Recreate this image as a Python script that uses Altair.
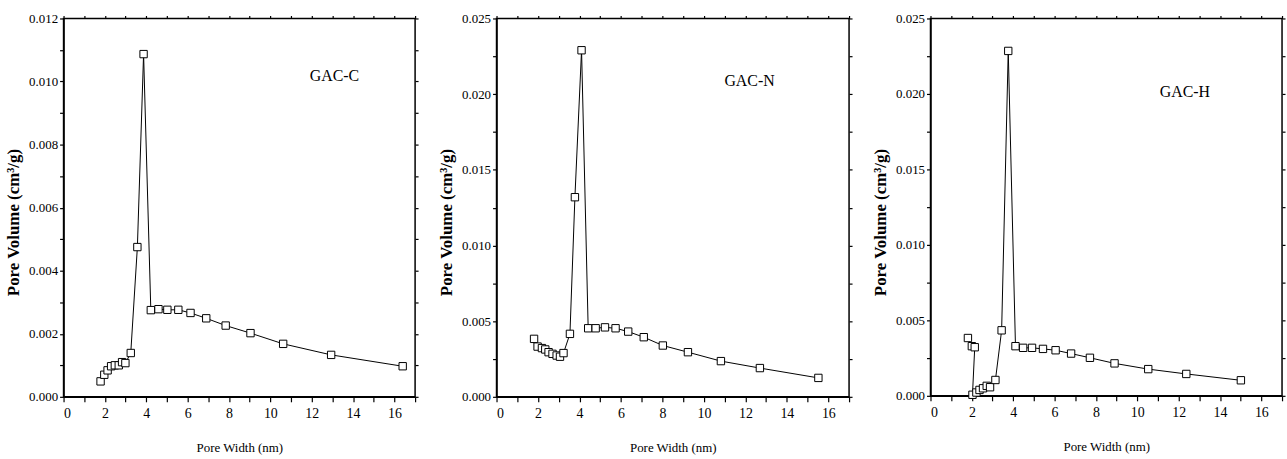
import altair as alt
import pandas as pd

# ---------------- data ----------------
c_x = [1.79, 1.97, 2.13, 2.30, 2.48, 2.67, 2.83, 2.99, 3.25, 3.57, 3.87, 4.22,
       4.59, 5.02, 5.55, 6.14, 6.90, 7.84, 9.04, 10.62, 12.94, 16.40]
c_y = [0.00049, 0.00070, 0.00084, 0.00097, 0.00100, 0.00100, 0.00110, 0.00107,
       0.00139, 0.00475, 0.01087, 0.00275, 0.00278, 0.00276, 0.00276, 0.00266,
       0.00249, 0.00226, 0.00202, 0.00168, 0.00133, 0.00097]

n_x = [1.81, 1.98, 2.19, 2.35, 2.51, 2.70, 2.90, 3.06, 3.23, 3.54, 3.78, 4.10,
       4.42, 4.78, 5.23, 5.74, 6.35, 7.10, 8.02, 9.23, 10.82, 12.70, 15.52]
n_y = [0.00383, 0.00332, 0.00322, 0.00313, 0.00295, 0.00284, 0.00273, 0.00265,
       0.00289, 0.00416, 0.01319, 0.02290, 0.00453, 0.00453, 0.00459, 0.00453,
       0.00431, 0.00394, 0.00339, 0.00295, 0.00236, 0.00190, 0.00125]

h_x = [1.81, 2.00, 2.14, 2.03, 2.22, 2.37, 2.54, 2.72, 2.88, 3.14, 3.44, 3.76,
       4.11, 4.48, 4.91, 5.44, 6.05, 6.80, 7.71, 8.90, 10.53, 12.37, 15.01]
h_y = [0.00383, 0.00329, 0.00322, 0.00007, 0.00022, 0.00039, 0.00050, 0.00066,
       0.00057, 0.00105, 0.00434, 0.02285, 0.00329, 0.00318, 0.00318, 0.00311,
       0.00302, 0.00280, 0.00252, 0.00215, 0.00177, 0.00145, 0.00103]

sample_labels = ["GAC-C", "GAC-N", "GAC-H"]
label_x = [13.1, 12.2, 12.3]
label_y = [0.01017, 0.02087, 0.0201]
y_max = [0.012, 0.025, 0.025]
y_major = [0.002, 0.005, 0.005]

x_title = "Pore Width (nm)"
y_title = "Pore Volume (cm³/g)"
FONT = "Liberation Serif"


def panel(xs, ys, label, lx, ly, ymax, major, width, height):
    df = pd.DataFrame({"x": xs, "y": ys, "order": list(range(len(xs)))})
    xscale = alt.Scale(domain=[0, 17], nice=False, zero=False)
    yscale = alt.Scale(domain=[0, ymax], nice=False, zero=False)
    xvals = list(range(0, 18))
    minor = major / 2
    nvals = int(round(ymax / minor))
    yvals = [round(i * minor, 6) for i in range(nvals + 1)]
    ylabel_expr = (
        f"abs(datum.value/{major} - round(datum.value/{major})) < 1e-6 "
        "? format(datum.value, '.3f') : ''"
    )
    base = alt.Chart(df)
    line = base.mark_line(color="black", strokeWidth=1).encode(
        x=alt.X("x:Q", scale=xscale,
                axis=alt.Axis(values=xvals, title=x_title,
                              labelExpr="datum.value % 2 == 0 ? datum.label : ''",
                              tickSize=5, labelPadding=5, titlePadding=21,
                              labelFont=FONT, titleFont=FONT, labelFontSize=14,
                              titleFontSize=13, titleFontWeight="normal",
                              grid=False)),
        y=alt.Y("y:Q", scale=yscale,
                axis=alt.Axis(values=yvals, title=y_title, labelExpr=ylabel_expr,
                              tickSize=4, labelPadding=2, titlePadding=6,
                              titleY=205,
                              labelFont=FONT, titleFont=FONT, labelFontSize=13,
                              titleFontSize=17, titleFontWeight="bold",
                              grid=False)),
        order="order:Q",
    )
    pts = base.mark_point(shape="square", filled=True, fill="white", stroke="black",
                          strokeWidth=1, size=55, opacity=1).encode(
        x=alt.X("x:Q", scale=xscale, axis=None),
        y=alt.Y("y:Q", scale=yscale, axis=None),
    )
    mirror = base.mark_point(opacity=0).encode(
        x=alt.X("x:Q", scale=xscale,
                axis=alt.Axis(orient="top", values=xvals, labels=False, title=None,
                              tickSize=3, domain=False, grid=False)),
        y=alt.Y("y:Q", scale=yscale,
                axis=alt.Axis(orient="right", values=yvals, labels=False, title=None,
                              tickSize=3, domain=False, grid=False)),
    )
    lab = alt.Chart(pd.DataFrame({"x": [lx], "y": [ly], "t": [label]})).mark_text(
        font=FONT, fontSize=16, color="black").encode(
        x=alt.X("x:Q", scale=xscale, axis=None),
        y=alt.Y("y:Q", scale=yscale, axis=None),
        text="t:N",
    )
    return alt.layer(line, pts, mirror, lab).resolve_axis(
        x="independent", y="independent").properties(width=width, height=height)


p1 = panel(c_x, c_y, sample_labels[0], label_x[0], label_y[0], y_max[0], y_major[0], 354, 381)
p2 = panel(n_x, n_y, sample_labels[1], label_x[1], label_y[1], y_max[1], y_major[1], 355, 381)
p3 = panel(h_x, h_y, sample_labels[2], label_x[2], label_y[2], y_max[2], y_major[2], 354, 380)

chart = alt.hconcat(p1, p2, p3, spacing=82, bounds="flush").properties(
    autosize=alt.AutoSizeParams(type="pad"),
    padding={"left": 4, "top": 10, "right": 0, "bottom": 0},
    background="white",
).configure_view(stroke="black", strokeWidth=1.5).configure_axis(
    domainColor="black", domainWidth=1.5, tickColor="black", tickWidth=1.2,
    labelColor="black", titleColor="black", labelFont=FONT, titleFont=FONT,
)

chart.save("out.html", embed_options={"renderer": "svg", "actions": False})
